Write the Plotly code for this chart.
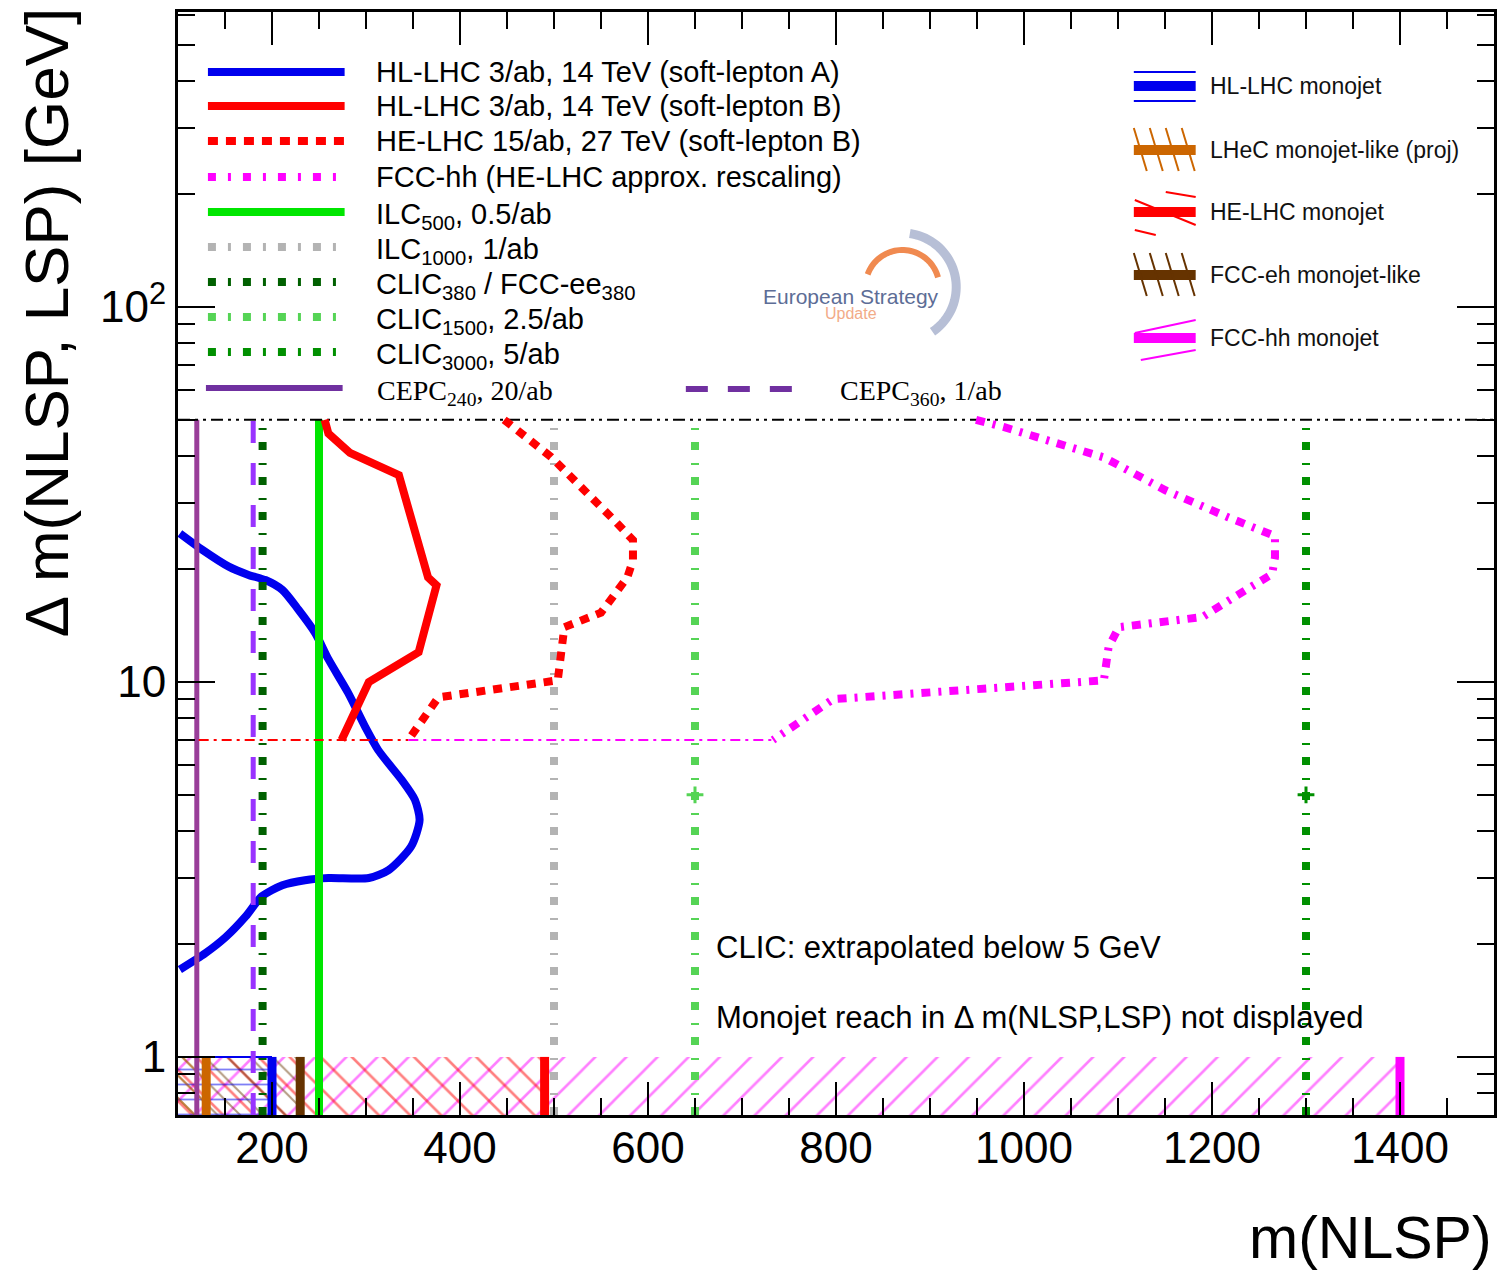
import math
import plotly.graph_objects as go

# ---------------- data ----------------
x_range = [100, 1500]
dm_range = [0.7, 612]

# HL-LHC 3/ab, 14 TeV (soft-lepton A)
slA_m = [102, 126, 154, 175, 193, 211, 228, 246, 260, 281, 299, 313, 338, 352, 357,
         348, 324, 303, 260, 235, 211, 189, 172, 151, 129, 102]
slA_dm = [24.9, 22.5, 20.3, 19.3, 18.7, 17.6, 15.6, 13.5, 11.5, 9.35, 7.6, 6.58, 5.48, 4.85, 4.28,
          3.64, 3.15, 3.0, 3.0, 2.96, 2.87, 2.68, 2.37, 2.09, 1.89, 1.71]

# HL-LHC 3/ab, 14 TeV (soft-lepton B)
slB_m = [256, 260, 283, 335, 366, 375, 356, 303, 274]
slB_dm = [50, 46, 40.8, 35.6, 19.0, 18.1, 12.0, 10.0, 7.0]

# HE-LHC 15/ab, 27 TeV (soft-lepton B)
he_m = [447, 497, 564, 584, 584, 578, 550, 511, 504, 377, 345]
he_dm = [50, 39.8, 27.0, 23.9, 21.1, 19.0, 15.3, 14.0, 10.1, 9.1, 7.0]

# FCC-hh (HE-LHC approx. rescaling)
fcc_m = [949, 979, 1085, 1151, 1217, 1267, 1267, 1264, 1223, 1190, 1101, 1090, 1085, 797, 733]
fcc_dm = [50, 47.8, 39.7, 32.4, 27.5, 24.5, 21.5, 19.4, 16.8, 14.9, 14.0, 12.4, 10.1, 9.0, 7.0]

# lepton colliders: vertical reach lines
coll_names = ["CEPC240", "CEPC360", "CLIC380", "ILC500", "ILC1000", "CLIC1500", "CLIC3000"]
coll_reach = [120, 180, 190, 250, 500, 650, 1300]
coll_dm = [0.7, 50]
clic_extrap_dm = 5
clic_extrap_m = [650, 1300]

# monojet reach bands (drawn at the bottom)
mono_names = ["FCC-hh monojet", "HE-LHC monojet", "FCC-eh monojet-like", "HL-LHC monojet",
              "LHeC monojet-like (proj)"]
mono_reach = [1400, 490, 230, 200, 130]
mono_dm = [0.7, 1.0]

# horizontal reference lines
dm_top_line = 50
dm_low_line = 7
low_line_start = 122

x_tickvals = [200, 400, 600, 800, 1000, 1200, 1400]
x_minor = [v for v in range(150, 1500, 50) if v % 200 != 0]
y_tickvals = [1, 10, 100]
y_ticktext = ["1", "10", "10<sup>2</sup>"]
y_minor = [0.8, 0.9, 2, 3, 4, 5, 6, 7, 8, 9, 20, 30, 40, 50, 60, 70, 80, 90, 200, 300, 400, 500, 600]

# ---------------- styles ----------------
FONT = "Liberation Sans"
SERIF = "Liberation Serif"
BLUE = "#0000ee"
RED = "#ff0000"
MAG = "#ff00ff"
SQDASH = "8px,12px,2px,13px"

coll_style = {
    "CEPC240": dict(color="#993d99", width=5, dash="solid"),
    "CEPC360": dict(color="#9933ff", width=5, dash="22px,20px"),
    "CLIC380": dict(color="#006000", width=8, dash=SQDASH),
    "ILC500": dict(color="#00e600", width=8, dash="solid"),
    "ILC1000": dict(color="#b3b3b3", width=8, dash=SQDASH),
    "CLIC1500": dict(color="#55d455", width=8, dash=SQDASH),
    "CLIC3000": dict(color="#009000", width=8, dash=SQDASH),
}
mono_style = {
    "FCC-hh monojet": dict(color=MAG, shape="/", size=22),
    "HE-LHC monojet": dict(color=RED, shape="\\", size=22),
    "FCC-eh monojet-like": dict(color="#663300", shape="\\", size=16),
    "HL-LHC monojet": dict(color=BLUE, shape="-", size=15),
    "LHeC monojet-like (proj)": dict(color="#cc6600", shape="\\", size=16),
}

W, H = 1501, 1270
L, R, T, B = 178, 1497, 12, 1115


def px(xp):
    return (xp - L) / (R - L)


def py(yp):
    return (B - yp) / (B - T)


fig = go.Figure()

# monojet bands
for name, reach in zip(mono_names, mono_reach):
    st = mono_style[name]
    fig.add_trace(go.Scatter(
        x=[x_range[0], reach, reach, x_range[0], x_range[0]],
        y=[mono_dm[0], mono_dm[0], mono_dm[1], mono_dm[1], mono_dm[0]],
        mode="lines", line=dict(width=0), fill="toself",
        fillcolor="rgba(0,0,0,0)",
        fillpattern=dict(shape=st["shape"], fgcolor=st["color"], size=st["size"], solidity=0.12),
        hoverinfo="skip"))
# HL-LHC band outline on top
fig.add_trace(go.Scatter(x=[x_range[0], mono_reach[3]], y=[mono_dm[1], mono_dm[1]], mode="lines",
                         line=dict(color=BLUE, width=2), hoverinfo="skip"))
# thick end markers of monojet reach
for name, reach in zip(mono_names, mono_reach):
    fig.add_trace(go.Scatter(x=[reach, reach], y=mono_dm, mode="lines",
                             line=dict(color=mono_style[name]["color"], width=9), hoverinfo="skip"))

# soft-lepton A (blue)
fig.add_trace(go.Scatter(x=slA_m, y=slA_dm, mode="lines",
                         line=dict(color=BLUE, width=8, shape="spline", smoothing=0.7)))

# vertical lepton collider lines
for name, reach in zip(coll_names, coll_reach):
    st = coll_style[name]
    fig.add_trace(go.Scatter(x=[reach, reach], y=coll_dm, mode="lines",
                             line=dict(color=st["color"], width=st["width"], dash=st["dash"])))
fig.add_trace(go.Scatter(x=clic_extrap_m, y=[clic_extrap_dm] * len(clic_extrap_m), mode="markers",
                         marker=dict(symbol="cross-thin", size=12,
                                     line=dict(width=3, color=["#55d455", "#009000"]))))

# horizontal dash-dot lines
fig.add_trace(go.Scatter(x=x_range, y=[dm_top_line, dm_top_line], mode="lines",
                         line=dict(color="black", width=2, dash="12px,5px,3px,5px,3px,5px")))
fig.add_trace(go.Scatter(x=[low_line_start, he_m[-1]], y=[dm_low_line, dm_low_line], mode="lines",
                         line=dict(color=RED, width=2, dash="10px,5px,3px,5px")))
fig.add_trace(go.Scatter(x=[he_m[-1], fcc_m[-1]], y=[dm_low_line, dm_low_line], mode="lines",
                         line=dict(color=MAG, width=2, dash="10px,5px,3px,5px")))

# soft-lepton B curves
fig.add_trace(go.Scatter(x=slB_m, y=slB_dm, mode="lines", line=dict(color=RED, width=8)))
fig.add_trace(go.Scatter(x=he_m, y=he_dm, mode="lines", line=dict(color=RED, width=8, dash="9px,8px")))
fig.add_trace(go.Scatter(x=fcc_m, y=fcc_dm, mode="lines",
                         line=dict(color=MAG, width=8, dash="9px,8px,3px,8px")))

shapes = []
annotations = []

# ---------------- left legend ----------------
left_rows = [
    ("HL-LHC 3/ab, 14 TeV (soft-lepton A)", BLUE, 8, "solid", 72),
    ("HL-LHC 3/ab, 14 TeV (soft-lepton B)", RED, 8, "solid", 106),
    ("HE-LHC 15/ab, 27 TeV (soft-lepton B)", RED, 8, "10px,8px", 141),
    ("FCC-hh (HE-LHC approx. rescaling)", MAG, 8, "8px,12px,3px,12px", 177),
    ("ILC<sub>500</sub>, 0.5/ab", "#00e600", 8, "solid", 212),
    ("ILC<sub>1000</sub>, 1/ab", "#b3b3b3", 8, "8px,12px,3px,12px", 247),
    ("CLIC<sub>380</sub> / FCC-ee<sub>380</sub>", "#006000", 8, "8px,12px,3px,12px", 282),
    ("CLIC<sub>1500</sub>, 2.5/ab", "#55d455", 8, "8px,12px,3px,12px", 317),
    ("CLIC<sub>3000</sub>, 5/ab", "#009000", 8, "8px,12px,3px,12px", 352),
]
for text, col, wd, dash, yrow in left_rows:
    shapes.append(dict(type="line", xref="paper", yref="paper", x0=px(208), x1=px(345),
                       y0=py(yrow), y1=py(yrow), line=dict(color=col, width=wd, dash=dash)))
    yoff = 4 if "<sub>" in text else 0
    annotations.append(dict(text=text, xref="paper", yref="paper", x=px(374), y=py(yrow + yoff),
                            xanchor="left", yanchor="middle", showarrow=False,
                            font=dict(family=FONT, size=29, color="black")))
# CEPC entries (serif)
shapes.append(dict(type="line", xref="paper", yref="paper", x0=px(206), x1=px(343),
                   y0=py(388), y1=py(388), line=dict(color="#7030a0", width=6)))
annotations.append(dict(text="CEPC<sub>240</sub>, 20/ab", xref="paper", yref="paper", x=px(375),
                        y=py(392), xanchor="left", yanchor="middle", showarrow=False,
                        font=dict(family=SERIF, size=28, color="black")))
shapes.append(dict(type="line", xref="paper", yref="paper", x0=px(687), x1=px(797),
                   y0=py(389), y1=py(389), line=dict(color="#7030a0", width=6, dash="22px,20px")))
annotations.append(dict(text="CEPC<sub>360</sub>, 1/ab", xref="paper", yref="paper", x=px(840),
                        y=py(393), xanchor="left", yanchor="middle", showarrow=False,
                        font=dict(family=SERIF, size=28, color="black")))

# ---------------- right legend ----------------
right_rows = [
    ("HL-LHC monojet", BLUE, 86),
    ("LHeC monojet-like (proj)", "#cc6600", 150),
    ("HE-LHC monojet", RED, 212),
    ("FCC-eh monojet-like", "#663300", 275),
    ("FCC-hh monojet", MAG, 338),
]
for text, col, yrow in right_rows:
    shapes.append(dict(type="line", xref="paper", yref="paper", x0=px(1136), x1=px(1198),
                       y0=py(yrow), y1=py(yrow), line=dict(color=col, width=10)))
    annotations.append(dict(text=text, xref="paper", yref="paper", x=px(1210), y=py(yrow),
                            xanchor="left", yanchor="middle", showarrow=False,
                            font=dict(family=FONT, size=23, color="#111111")))


def seg(x0, y0, x1, y1, col, w=2):
    shapes.append(dict(type="line", xref="paper", yref="paper", x0=px(x0), x1=px(x1),
                       y0=py(y0), y1=py(y1), line=dict(color=col, width=w)))


# HL-LHC monojet: parallel thin lines
seg(1136, 72, 1198, 72, BLUE)
seg(1136, 101, 1198, 101, BLUE)
# LHeC / FCC-eh: steep strokes
for yrow, col in [(150, "#cc6600"), (275, "#663300")]:
    for xs in [1136, 1152, 1168, 1184]:
        seg(xs, yrow - 22, xs + 13, yrow + 21, col)
# HE-LHC: shallow strokes
seg(1137, 200, 1198, 225, RED)
seg(1168, 192, 1198, 197, RED)
seg(1137, 230, 1158, 235, RED)
# FCC-hh: shallow up-right strokes
seg(1137, 333, 1198, 320, MAG)
seg(1143, 360, 1198, 350, MAG)


# ---------------- logo (European Strategy Update) ----------------
def arc_path(cx, cy, r, a0, a1, n=40):
    pts = []
    for i in range(n + 1):
        a = math.radians(a0 + (a1 - a0) * i / n)
        pts.append((px(cx + r * math.cos(a)), py(cy - r * math.sin(a))))
    return "M " + " L ".join(f"{x:.5f},{y:.5f}" for x, y in pts)


shapes.append(dict(type="path", xref="paper", yref="paper", path=arc_path(904, 287, 54, 82, -56),
                   line=dict(color="#b7bfd6", width=9)))
shapes.append(dict(type="path", xref="paper", yref="paper", path=arc_path(904, 287, 37, 160, 15),
                   line=dict(color="#f08a50", width=6)))
annotations.append(dict(text="European Strategy", xref="paper", yref="paper", x=px(853), y=py(297),
                        xanchor="center", yanchor="middle", showarrow=False,
                        font=dict(family="Liberation Sans", size=21, color="#5d6d96")))
annotations.append(dict(text="Update", xref="paper", yref="paper", x=px(853), y=py(314),
                        xanchor="center", yanchor="middle", showarrow=False,
                        font=dict(family="Liberation Sans", size=16, color="#f2ab88")))

# ---------------- in-plot notes ----------------
annotations.append(dict(text="CLIC: extrapolated below 5 GeV", xref="paper", yref="paper",
                        x=px(715), y=py(947), xanchor="left", yanchor="middle", showarrow=False,
                        font=dict(family=FONT, size=31, color="black")))
annotations.append(dict(text="Monojet reach in Δ m(NLSP,LSP) not displayed", xref="paper",
                        yref="paper", x=px(715), y=py(1018), xanchor="left", yanchor="middle",
                        showarrow=False, font=dict(family=FONT, size=31, color="black")))

# axis titles
annotations.append(dict(text="m(NLSP)", xref="paper", yref="paper", x=px(1497), y=py(1238),
                        xanchor="right", yanchor="middle", showarrow=False,
                        font=dict(family=FONT, size=59, color="black")))
annotations.append(dict(text="Δ m(NLSP, LSP) [GeV]", xref="paper", yref="paper", x=px(46), y=py(322),
                        xanchor="center", yanchor="middle", textangle=-90, showarrow=False,
                        font=dict(family=FONT, size=62, color="black")))

fig.update_layout(
    width=W, height=H,
    margin=dict(l=L, r=W - R, t=T, b=H - B),
    paper_bgcolor="white", plot_bgcolor="white",
    showlegend=False,
    shapes=shapes, annotations=annotations,
    xaxis=dict(range=x_range, tickvals=x_tickvals, ticks="inside", ticklen=33, tickwidth=2,
               tickcolor="black", showline=True, linewidth=3, linecolor="black", mirror="ticks",
               showgrid=False, zeroline=False, ticklabelstandoff=-8,
               tickfont=dict(family=FONT, size=44, color="black"),
               minor=dict(tickvals=x_minor, ticks="inside", ticklen=17, tickwidth=2,
                          tickcolor="black", showgrid=False)),
    yaxis=dict(type="log", range=[math.log10(dm_range[0]), math.log10(dm_range[1])],
               tickvals=y_tickvals, ticktext=y_ticktext, ticks="inside", ticklen=37, tickwidth=2,
               tickcolor="black", showline=True, linewidth=3, linecolor="black", mirror="ticks",
               showgrid=False, zeroline=False, ticklabelstandoff=0,
               tickfont=dict(family=FONT, size=44, color="black"),
               minor=dict(tickvals=y_minor, ticks="inside", ticklen=17, tickwidth=2,
                          tickcolor="black", showgrid=False)),
)

fig.write_html("out.html")
